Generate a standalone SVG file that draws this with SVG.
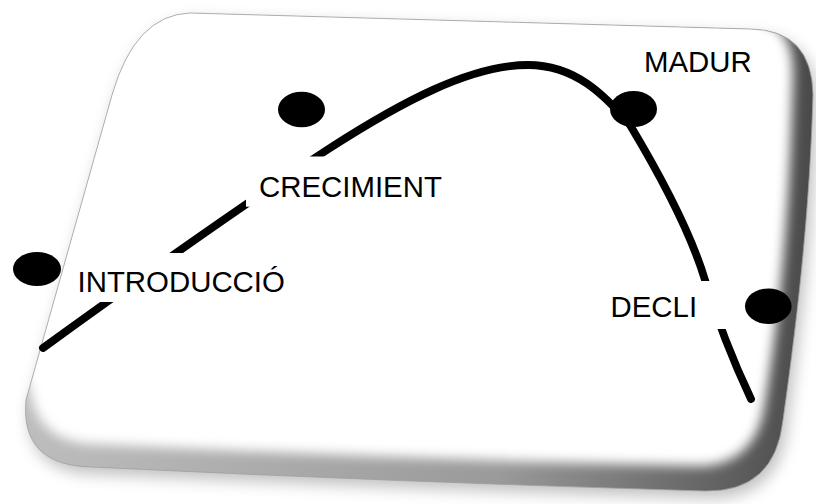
<svg xmlns="http://www.w3.org/2000/svg" width="816" height="504" viewBox="0 0 816 504">
  <style>
    .label { font-family: "Liberation Sans", Arial, sans-serif; font-size: 29.4px; fill: #000; }
    .box { fill: #fff; }
    .dot { fill: #000; }
    .life { fill: none; stroke: #000; stroke-width: 7.8; stroke-linecap: round; stroke-linejoin: round; }
  </style>
  <defs>
    <!-- outline of the tilted card -->
    <path id="cardOuter" d="M190,13 L750,29 Q812,30 813,95 C810,200 800,300 783,420 Q775,492 705,491 Q400,482 92,467 C45,466 22,445 26,400 L112,95 Q135,15 190,13 Z"/>
    <clipPath id="cardClip">
      <use href="#cardOuter"/>
    </clipPath>
    <linearGradient id="bevelFill" x1="0" y1="0" x2="1" y2="0">
      <stop offset="0" stop-color="#bdbdbd"/>
      <stop offset="0.6" stop-color="#9a9a9a"/>
      <stop offset="1" stop-color="#4a4a4a"/>
    </linearGradient>
    <filter id="faceBlur" x="-10%" y="-10%" width="120%" height="120%">
      <feGaussianBlur stdDeviation="6"/>
    </filter>
    <filter id="dropBlur" x="-10%" y="-10%" width="120%" height="125%">
      <feGaussianBlur stdDeviation="8"/>
    </filter>
  </defs>

  <rect width="816" height="504" fill="#fff"/>

  <!-- card: soft drop shadow, grey bevel, white face -->
  <g id="card">
    <use href="#cardOuter" transform="translate(4,7)" fill="#000" opacity="0.25" filter="url(#dropBlur)"/>
    <use href="#cardOuter" fill="url(#bevelFill)"/>
    <g clip-path="url(#cardClip)">
      <path d="M-40,-40 L760,-40 L760,20 Q793,26 793,74 C790,200 782,300 764,408 Q754,464 700,466 Q400,459 92,444 C58,442 38,427 32,398 L0,300 L-40,-40 Z" fill="#fff" filter="url(#faceBlur)"/>
    </g>
    <use href="#cardOuter" fill="none" stroke="#a0a0a0" stroke-width="0.8"/>
  </g>

  <!-- life-cycle curve -->
  <g id="connectors">
    <path class="life" d="M43,348 C120,292 250,200 330,148 C400,103 470,65 528,65 C575,65 605,95 630,125 C660,175 690,230 705,280 C720,330 735,365 751,399"/>
  </g>

  <g id="stage-introduccio">
    <rect class="box" x="68" y="253" width="232" height="49"/>
    <text class="label" x="77.5" y="292">INTRODUCCIÓ</text>
    <ellipse class="dot" cx="37" cy="269" rx="24" ry="17"/>
  </g>

  <g id="stage-creciment">
    <rect class="box" x="246" y="156.5" width="210" height="50.2"/>
    <text class="label" x="259" y="196.5">CRECIMIENT</text>
    <ellipse class="dot" cx="301.5" cy="109.5" rx="23.5" ry="17.8"/>
  </g>

  <g id="stage-madur">
    <rect class="box" x="636" y="40" width="128" height="42"/>
    <text class="label" x="644" y="72.3">MADUR</text>
    <ellipse class="dot" cx="633.5" cy="109" rx="23.5" ry="18"/>
  </g>

  <g id="stage-decli">
    <rect class="box" x="600" y="281" width="135" height="48"/>
    <text class="label" x="610.5" y="317">DECLI</text>
    <ellipse class="dot" cx="768.3" cy="306.2" rx="23.3" ry="17.8"/>
  </g>
</svg>
